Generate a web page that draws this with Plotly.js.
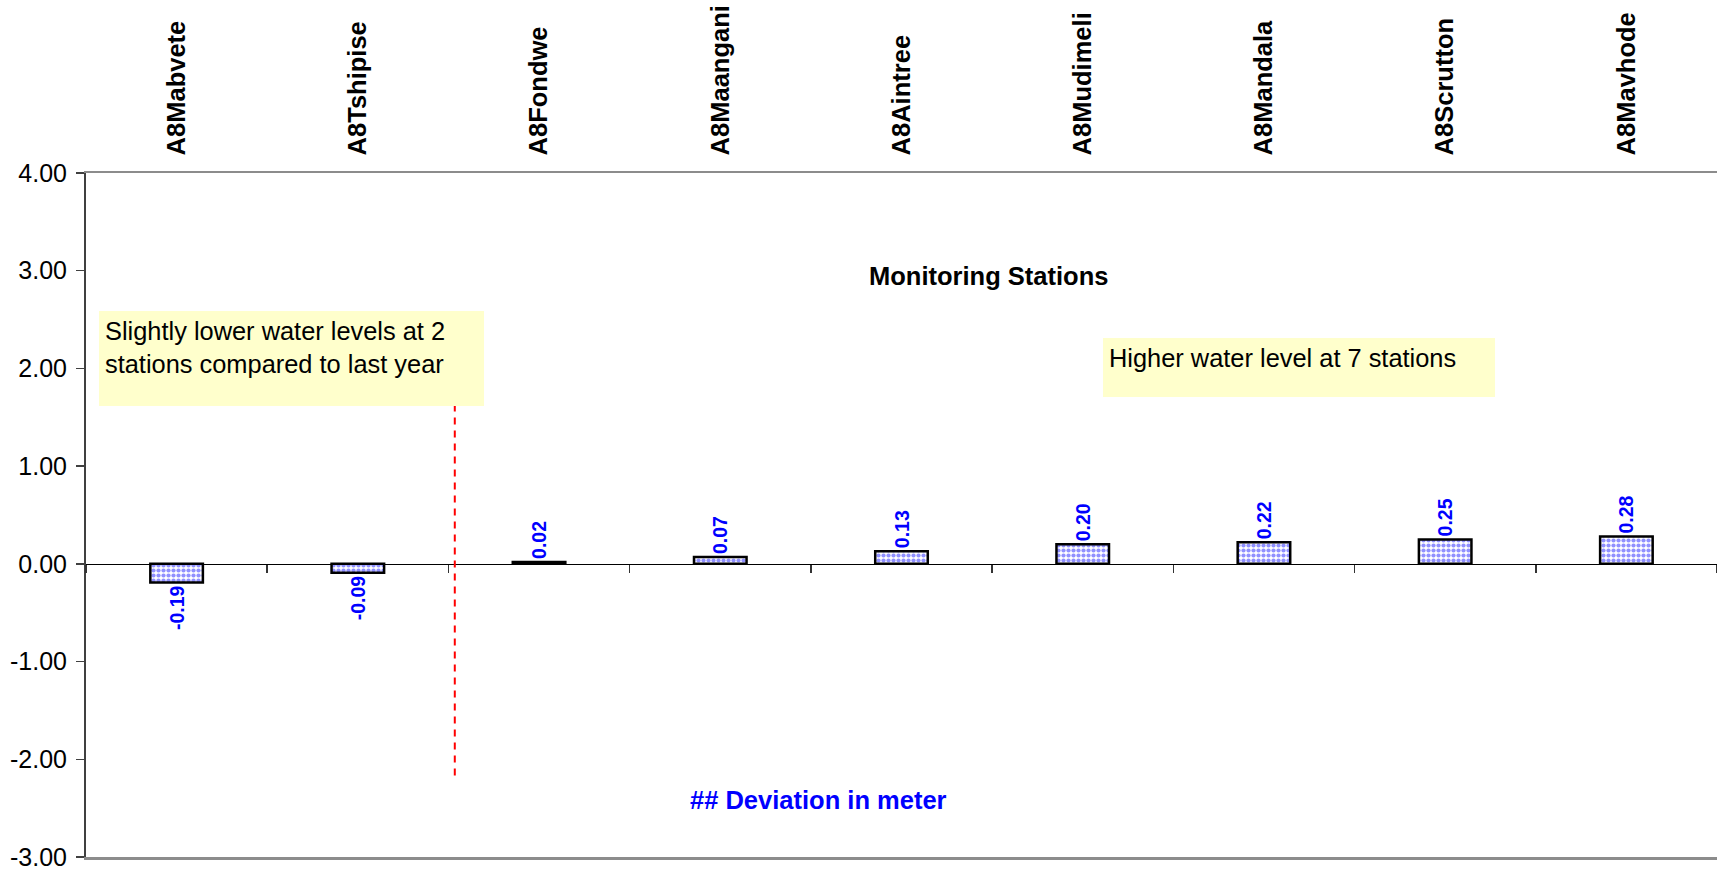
<!DOCTYPE html>
<html>
<head>
<meta charset="utf-8">
<script src="https://cdn.plot.ly/plotly-3.0.1.min.js"></script>
<style>html,body{margin:0;padding:0;background:#fff;}#chart{width:1717px;height:873px;}</style>
</head>
<body>
<div id="chart"></div>
<script>
const stations = ["A8Mabvete", "A8Tshipise", "A8Fondwe", "A8Maangani", "A8Aintree", "A8Mudimeli", "A8Mandala", "A8Scrutton", "A8Mavhode"];
const deviation = [-0.19, -0.09, 0.02, 0.07, 0.13, 0.20, 0.22, 0.25, 0.28];
const yTickVals = [-3, -2, -1, 0, 1, 2, 3, 4];
const yTickText = yTickVals.map(v => v.toFixed(2));
const barLabels = deviation.map(v => "<b>" + v.toFixed(2) + "</b>");
const xAxisTitle = "Monitoring Stations";
const yAxisTitle = "## Deviation in meter";
const noteLower = "Slightly lower water levels at 2<br>stations compared to last year";
const noteHigher = "Higher water level at 7 stations";

const FONT = "Liberation Sans, Arial, Helvetica, sans-serif";

const bars = {
  type: "bar",
  x: stations,
  y: deviation,
  width: 0.29,
  marker: {
    color: "#c0c0ff",
    line: {color: "#000000", width: 2.5},
    pattern: {shape: ".", fgcolor: "#9090ff", bgcolor: "#ffffff", size: 5, solidity: 0.55, fillmode: "replace"}
  },
  text: barLabels,
  texttemplate: "%{text}",
  textposition: "outside",
  textangle: -90,
  constraintext: "none",
  cliponaxis: false,
  textfont: {family: FONT, size: 19.5, color: "#0000ff"},
  hoverinfo: "x+y",
  showlegend: false
};

const helper = {
  type: "scatter",
  mode: "none",
  x: stations.map((s, i) => i),
  y: deviation,
  xaxis: "x2",
  yaxis: "y",
  hoverinfo: "skip",
  showlegend: false
};

const layout = {
  width: 1717,
  height: 873,
  margin: {l: 86, r: 0, t: 173, b: 16, pad: 0},
  paper_bgcolor: "#ffffff",
  plot_bgcolor: "#ffffff",
  font: {family: FONT, size: 25, color: "#000000"},
  showlegend: false,
  bargap: 0.7,
  xaxis: {
    type: "category",
    side: "top",
    range: [-0.5, stations.length - 0.5],
    showline: true,
    mirror: true,
    linecolor: "#8c8c8c",
    linewidth: 2.5,
    ticks: "",
    showgrid: false,
    zeroline: false,
    tickangle: -90,
    tickfont: {family: FONT, size: 25.5, color: "#000000", weight: "bold"},
    ticklabelstandoff: 10,
    automargin: false
  },
  xaxis2: {
    overlaying: "x",
    anchor: "free",
    position: 3 / 7,
    range: [-0.5, stations.length - 0.5],
    showline: true,
    linecolor: "#000000",
    linewidth: 1.5,
    ticks: "outside",
    tickmode: "linear",
    tick0: -0.5,
    dtick: 1,
    ticklen: 8,
    tickwidth: 1.5,
    tickcolor: "#333333",
    showticklabels: false,
    showgrid: false,
    zeroline: false,
    automargin: false
  },
  yaxis: {
    range: [-3, 4],
    tickmode: "array",
    tickvals: yTickVals,
    ticktext: yTickText,
    showline: true,
    linecolor: "#404040",
    linewidth: 2,
    ticks: "outside",
    ticklen: 8,
    tickwidth: 1.5,
    tickcolor: "#404040",
    showgrid: false,
    zeroline: false,
    ticklabelstandoff: 4,
    tickfont: {family: FONT, size: 25, color: "#000000"},
    automargin: false
  },
  shapes: [{
    type: "line",
    xref: "x", yref: "y",
    x0: 1.535, x1: 1.535, y0: 1.63, y1: -2.21,
    line: {color: "#ff0000", width: 2, dash: "7px,6px"}
  }],
  annotations: [
    {
      text: "<b>" + xAxisTitle + "</b>",
      xref: "paper", yref: "paper", x: 0.5536, y: 0.8499,
      xanchor: "center", yanchor: "middle", showarrow: false,
      font: {family: FONT, size: 25.5, color: "#000000"}
    },
    {
      text: "<b>" + yAxisTitle + "</b>",
      xref: "paper", yref: "paper", x: 0.4494, y: 0.084,
      xanchor: "center", yanchor: "middle", showarrow: false,
      font: {family: FONT, size: 25.5, color: "#0000ff"}
    },
    {
      text: noteLower,
      xref: "paper", yref: "paper", x: 0.008, y: 0.7977,
      xanchor: "left", yanchor: "top", showarrow: false,
      width: 373, height: 83, borderpad: 6, borderwidth: 0,
      align: "left", valign: "top",
      bgcolor: "#ffffcc",
      font: {family: FONT, size: 25.4, color: "#000000"}
    },
    {
      text: noteHigher,
      xref: "paper", yref: "paper", x: 0.6235, y: 0.7593,
      xanchor: "left", yanchor: "top", showarrow: false,
      width: 380, height: 47, borderpad: 6, borderwidth: 0,
      align: "left", valign: "top",
      bgcolor: "#ffffcc",
      font: {family: FONT, size: 25.4, color: "#000000"}
    }
  ]
};

Plotly.newPlot("chart", [bars, helper], layout, {displayModeBar: false, staticPlot: true});
</script>
</body>
</html>
